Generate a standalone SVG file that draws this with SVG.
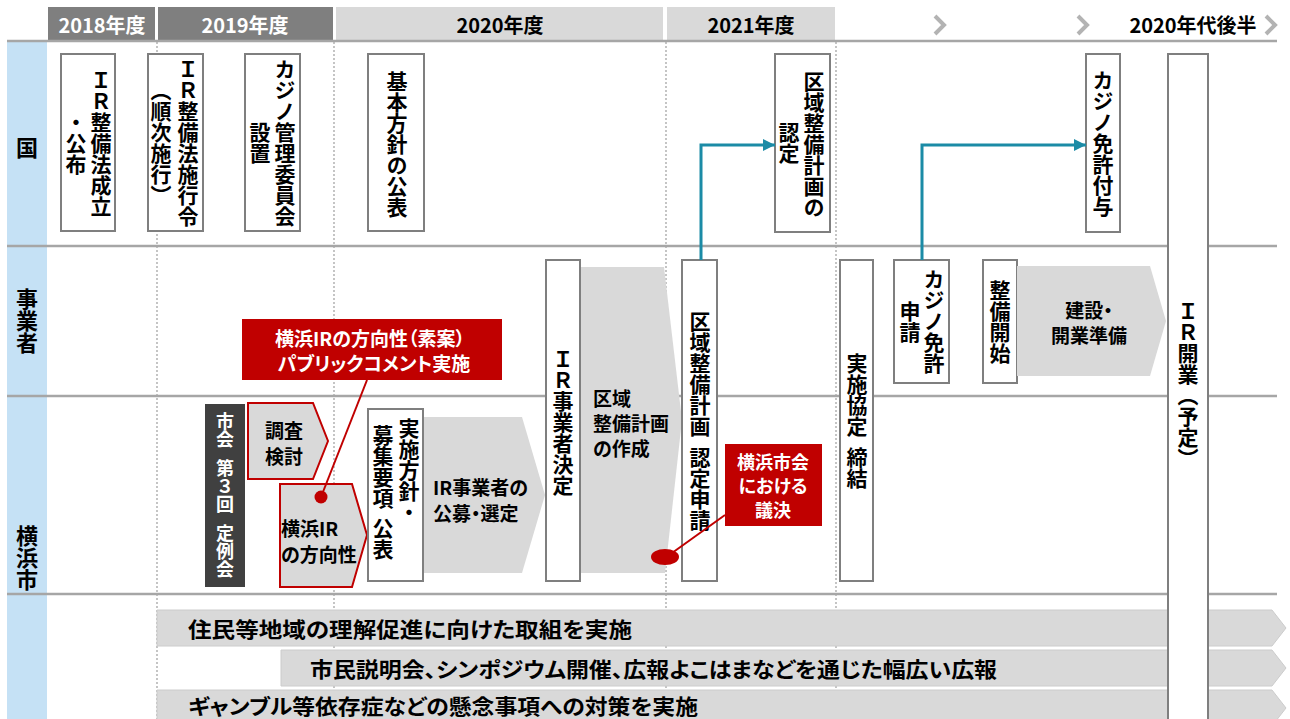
<svg xmlns="http://www.w3.org/2000/svg" width="1290" height="719" viewBox="0 0 1290 719">
<style>
text { font-family: "Noto Sans CJK JP", "Noto Sans", sans-serif; font-weight: 700; fill: #000; }
.h { font-size: 20px; text-anchor: middle; dominant-baseline: central; }
.hw { fill: #fff; }
.v { writing-mode: vertical-rl; text-anchor: middle; font-size: 21px; }
.vs { writing-mode: vertical-rl; text-anchor: start; font-size: 21px; }
.c { font-size: 19px; dominant-baseline: central; font-feature-settings: "palt" 1; }
.w { fill: #fff; }
.box { fill: #fff; stroke: #7f7f7f; stroke-width: 2; }
.garrow { fill: #d9d9d9; }
.bar { fill: #d9d9d9; stroke: #cccccc; stroke-width: 1; }
.rarrow { fill: #d9d9d9; stroke: #c00000; stroke-width: 2; }
.callout { fill: #c00000; }
.grid { stroke: #a6a6a6; stroke-width: 2.5; fill: none; }
.dotl { stroke: #a6a6a6; stroke-width: 1.3; stroke-dasharray: 2 2; fill: none; }
.teal { stroke: #1b8ba6; stroke-width: 3; fill: none; marker-end: url(#ah); }
.redl { stroke: #c00000; stroke-width: 2; fill: none; }
.chev { stroke: #b3b3b3; stroke-width: 4; fill: none; }
</style>
<defs>
<marker id="ah" viewBox="0 0 10 10" refX="10" refY="5" markerWidth="4.5" markerHeight="4" orient="auto" markerUnits="strokeWidth">
<path d="M0,0 L10,5 L0,10 z" fill="#1b8ba6"/>
</marker>
</defs>
<rect width="1290" height="719" fill="#fff"/>

<g id="header">
<rect x="48" y="7" width="107" height="33" fill="#7f7f7f"/>
<rect x="158" y="7" width="175" height="33" fill="#7f7f7f"/>
<rect x="336" y="7" width="327" height="33" fill="#d9d9d9"/>
<rect x="667" y="7" width="168" height="33" fill="#d9d9d9"/>
<text class="h hw" x="102" y="24">2018年度</text>
<text class="h hw" x="245" y="24">2019年度</text>
<text class="h" x="500" y="24">2020年度</text>
<text class="h" x="751" y="24">2021年度</text>
<text class="h" x="1193" y="24">2020年代後半</text>
<polyline class="chev" points="935,16 944,25 935,34"/>
<polyline class="chev" points="1078,16 1087,25 1078,34"/>
<polyline class="chev" points="1266,16 1275,25 1266,34"/>
</g>

<g id="lanes">
<rect x="7" y="42" width="40" height="677" fill="#c5e1f5"/>
<line class="dotl" x1="157" y1="42" x2="157" y2="719"/>
<line class="dotl" x1="334" y1="42" x2="334" y2="719"/>
<line class="dotl" x1="666" y1="42" x2="666" y2="719"/>
<line class="dotl" x1="836" y1="42" x2="836" y2="719"/>
<line class="grid" x1="7" y1="41" x2="1277" y2="41"/>
<line class="grid" x1="7" y1="246" x2="1277" y2="246"/>
<line class="grid" x1="7" y1="396" x2="1277" y2="396"/>
<line class="grid" x1="7" y1="594" x2="1277" y2="594"/>
<text x="27" y="146" style="font-size:22px;text-anchor:middle;dominant-baseline:central">国</text>
<text class="v" x="27" y="321" style="font-size:22px">事業者</text>
<text class="v" x="27" y="558" style="font-size:22px">横浜市</text>
</g>

<g id="bars">
<polygon class="bar" points="157,610 1272,610 1286,628 1272,646 157,646"/>
<polygon class="bar" points="281,650 1272,650 1286,668 1272,686 281,686"/>
<polygon class="bar" points="157,690 1272,690 1286,708 1272,726 157,726"/>
<text class="c" x="188" y="628" style="font-size:21px" textLength="444" lengthAdjust="spacingAndGlyphs">住民等地域の理解促進に向けた取組を実施</text>
<text class="c" x="310" y="668" style="font-size:21px" textLength="687" lengthAdjust="spacingAndGlyphs">市民説明会、シンポジウム開催、広報よこはまなどを通じた幅広い広報</text>
<text class="c" x="188" y="705" style="font-size:21px" textLength="510" lengthAdjust="spacingAndGlyphs">ギャンブル等依存症などの懸念事項への対策を実施</text>
</g>

<g id="n-ir-law">
<rect class="box" x="61" y="54" width="54" height="177"/>
<text class="v" x="101" y="143">ＩＲ整備法成立</text>
<text class="v" x="76" y="143">・公布</text>
</g>
<g id="n-ir-order">
<rect class="box" x="148" y="54" width="55" height="177"/>
<text class="v" x="188" y="143">ＩＲ整備法施行令</text>
<text class="v" x="161" y="143">（順次施行）</text>
</g>
<g id="n-casino-comm">
<rect class="box" x="245" y="54" width="55" height="177"/>
<text class="v" x="285" y="143">カジノ管理委員会</text>
<text class="v" x="260" y="143">設置</text>
</g>
<g id="n-basic-policy">
<rect class="box" x="368" y="54" width="56" height="177"/>
<text class="v" x="397" y="144">基本方針の公表</text>
</g>
<g id="n-area-cert">
<rect class="box" x="775" y="54" width="55" height="178"/>
<text class="v" x="814" y="144">区域整備計画の</text>
<text class="v" x="789" y="143">認定</text>
</g>
<g id="n-license-grant">
<rect class="box" x="1086" y="54" width="34" height="178"/>
<text class="v" x="1103" y="143">カジノ免許付与</text>
</g>

<g id="n-survey">
<polygon class="rarrow" points="248,403 313,403 328,441 313,479 248,479"/>
<text class="c" x="284" y="429" style="text-anchor:middle">調査</text>
<text class="c" x="284" y="455" style="text-anchor:middle">検討</text>
</g>
<g id="n-direction">
<polygon class="rarrow" points="280,484 352,484 367,535 352,587 280,587"/>
<text class="c" x="281" y="527">横浜IR</text>
<text class="c" x="281" y="553">の方向性</text>
</g>
<g id="n-council3">
<rect x="205" y="404" width="40" height="183" fill="#404040"/>
<text class="vs w" x="225" y="412" style="font-size:18px">市会<tspan dy="11">第３回</tspan><tspan dy="11">定例会</tspan></text>
</g>
<g id="n-implement-policy">
<rect class="box" x="368" y="409" width="55" height="172"/>
<text class="vs" x="409" y="418">実施方針・</text>
<text class="vs" x="383" y="425">募集要項<tspan dy="9">公表</tspan></text>
</g>
<g id="n-recruit">
<polygon class="garrow" points="424,417 522,417 545,495 522,573 424,573"/>
<text class="c" x="433" y="486">IR事業者の</text>
<text class="c" x="433" y="512">公募・選定</text>
</g>
<g id="n-operator">
<rect class="box" x="546" y="260" width="34" height="321"/>
<text class="v" x="563" y="422">ＩＲ事業者決定</text>
</g>
<g id="n-area-plan">
<polygon class="garrow" points="581,267 664,267 682,420 665,573 581,573"/>
<text class="c" x="593" y="397">区域</text>
<text class="c" x="593" y="422">整備計画</text>
<text class="c" x="593" y="447">の作成</text>
</g>
<g id="n-area-apply">
<rect class="box" x="682" y="260" width="35" height="321"/>
<text class="vs" x="700" y="311">区域整備計画<tspan dy="10">認定申請</tspan></text>
</g>
<g id="n-agreement">
<rect class="box" x="840" y="260" width="33" height="321"/>
<text class="vs" x="857" y="353">実施協定<tspan dy="10">締結</tspan></text>
</g>
<g id="n-license-apply">
<rect class="box" x="894" y="260" width="55" height="123"/>
<text class="v" x="934" y="321">カジノ免許</text>
<text class="v" x="910" y="322">申請</text>
</g>
<g id="n-construct-start">
<rect class="box" x="983" y="260" width="34" height="123"/>
<text class="v" x="1000" y="322">整備開始</text>
</g>
<g id="n-construct">
<polygon class="garrow" points="1017,266 1150,266 1166,321 1150,376 1017,376"/>
<text class="c" x="1089" y="309" style="text-anchor:middle">建設・</text>
<text class="c" x="1089" y="334" style="text-anchor:middle">開業準備</text>
</g>
<g id="n-open">
<rect class="box" x="1168" y="54" width="40" height="680"/>
<text class="v" x="1188" y="385">ＩＲ開業（予定）</text>
</g>

<g id="connectors">
<path class="teal" d="M701,260 V145 H775"/>
<path class="teal" d="M922,260 V145 H1086"/>
<line class="redl" x1="321" y1="497" x2="367" y2="380"/>
<circle cx="321" cy="497" r="6.5" fill="#c00000"/>
<line class="redl" x1="725" y1="515" x2="672" y2="553"/>
<ellipse cx="665" cy="557" rx="14" ry="8" fill="#c00000"/>
</g>

<g id="n-callout-pubcomment">
<rect class="callout" x="242" y="319" width="260" height="61"/>
<text class="c w" x="370" y="337" style="text-anchor:middle">横浜IRの方向性（素案）</text>
<text class="c w" x="374" y="362" style="text-anchor:middle">パブリックコメント実施</text>
</g>
<g id="n-callout-council">
<rect class="callout" x="725" y="444" width="97" height="82"/>
<text class="c w" x="773" y="461" style="text-anchor:middle;font-size:18px">横浜市会</text>
<text class="c w" x="773" y="485" style="text-anchor:middle;font-size:18px">における</text>
<text class="c w" x="773" y="509" style="text-anchor:middle;font-size:18px">議決</text>
</g>
</svg>
